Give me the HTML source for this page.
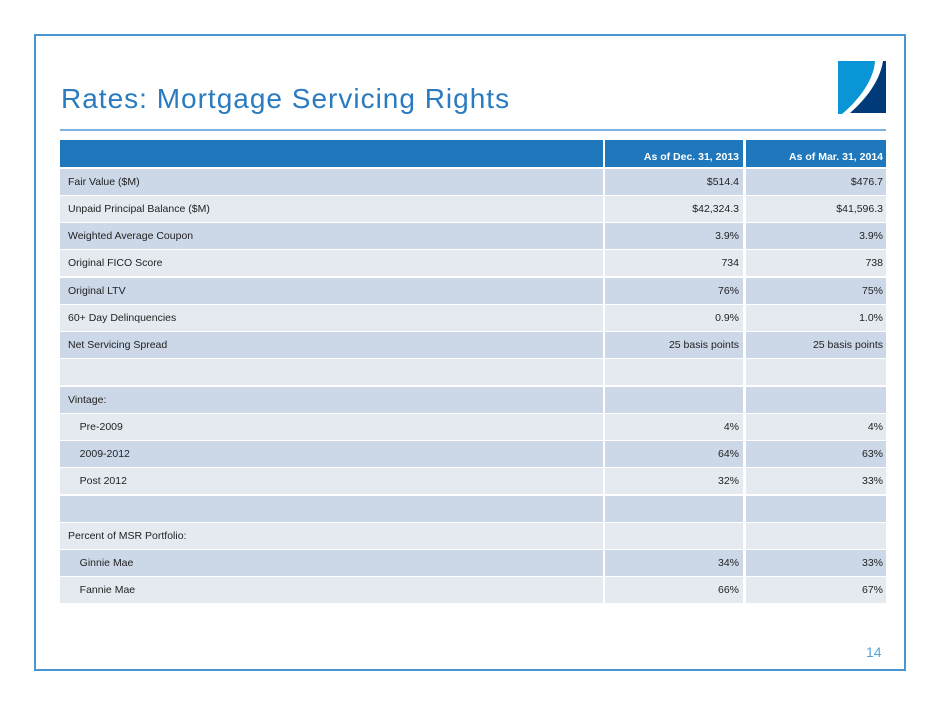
<!DOCTYPE html>
<html><head><style>
body{margin:0;width:940px;height:705px;background:#fff;position:relative;font-family:"Liberation Sans",sans-serif;overflow:hidden}
.frame{position:absolute;left:34px;top:34px;width:868px;height:633px;border:2px solid #4a94d0}
.title{position:absolute;left:61px;top:83px;font-size:28px;color:#2a7bbf;letter-spacing:1px;white-space:nowrap}
.rule{position:absolute;left:60px;top:129px;width:826px;height:2px;background:#7db3de}
.row{position:absolute;left:60px;width:826px;height:26px;font-size:10.5px;color:#222}
.c{position:absolute;top:0;height:26px;line-height:26px;box-sizing:border-box}
.c1{left:0;width:543px;padding-left:8px}
.c2{left:545px;width:138px;text-align:right;padding-right:4px}
.c3{left:686px;width:140px;text-align:right;padding-right:3px}
.a .c{background:#ccd8e8}.b .c{background:#e5eaf1}
.h .c{background:#1f78bc;color:#fff;font-weight:bold;height:27px;line-height:34px;font-size:10.5px}
.pg{position:absolute;left:866px;top:644px;font-size:14px;color:#5aa2d8}
</style></head><body>
<div class="frame"></div>
<div class="title">Rates: Mortgage Servicing Rights</div>
<svg style="position:absolute;left:838px;top:61px" width="49" height="54" viewBox="0 0 49 54">
<path d="M0,0 L37,0 C36,18 22,38 4,53 L0,53 Z" fill="#0a95d6"/>
<path d="M48,0 L48,52 L12,52 C28,38 42,20 45,0 Z" fill="#003a78"/>
</svg>
<div class="rule"></div>
<div class="row h" style="top:140px"><div class="c c1"></div><div class="c c2">As of Dec. 31, 2013</div><div class="c c3">As of Mar. 31, 2014</div></div>
<div class="row a" style="top:169px"><div class="c c1">Fair Value ($M)</div><div class="c c2">$514.4</div><div class="c c3">$476.7</div></div>
<div class="row b" style="top:196px"><div class="c c1">Unpaid Principal Balance ($M)</div><div class="c c2">$42,324.3</div><div class="c c3">$41,596.3</div></div>
<div class="row a" style="top:223px"><div class="c c1">Weighted Average Coupon</div><div class="c c2">3.9%</div><div class="c c3">3.9%</div></div>
<div class="row b" style="top:250px"><div class="c c1">Original FICO Score</div><div class="c c2">734</div><div class="c c3">738</div></div>
<div class="row a" style="top:278px"><div class="c c1">Original LTV</div><div class="c c2">76%</div><div class="c c3">75%</div></div>
<div class="row b" style="top:305px"><div class="c c1">60+ Day Delinquencies</div><div class="c c2">0.9%</div><div class="c c3">1.0%</div></div>
<div class="row a" style="top:332px"><div class="c c1">Net Servicing Spread</div><div class="c c2">25 basis points</div><div class="c c3">25 basis points</div></div>
<div class="row b" style="top:359px"><div class="c c1"></div><div class="c c2"></div><div class="c c3"></div></div>
<div class="row a" style="top:387px"><div class="c c1">Vintage:</div><div class="c c2"></div><div class="c c3"></div></div>
<div class="row b" style="top:414px"><div class="c c1">&nbsp;&nbsp;&nbsp;&nbsp;Pre-2009</div><div class="c c2">4%</div><div class="c c3">4%</div></div>
<div class="row a" style="top:441px"><div class="c c1">&nbsp;&nbsp;&nbsp;&nbsp;2009-2012</div><div class="c c2">64%</div><div class="c c3">63%</div></div>
<div class="row b" style="top:468px"><div class="c c1">&nbsp;&nbsp;&nbsp;&nbsp;Post 2012</div><div class="c c2">32%</div><div class="c c3">33%</div></div>
<div class="row a" style="top:496px"><div class="c c1"></div><div class="c c2"></div><div class="c c3"></div></div>
<div class="row b" style="top:523px"><div class="c c1">Percent of MSR Portfolio:</div><div class="c c2"></div><div class="c c3"></div></div>
<div class="row a" style="top:550px"><div class="c c1">&nbsp;&nbsp;&nbsp;&nbsp;Ginnie Mae</div><div class="c c2">34%</div><div class="c c3">33%</div></div>
<div class="row b" style="top:577px"><div class="c c1">&nbsp;&nbsp;&nbsp;&nbsp;Fannie Mae</div><div class="c c2">66%</div><div class="c c3">67%</div></div>
<div class="pg">14</div>
</body></html>
